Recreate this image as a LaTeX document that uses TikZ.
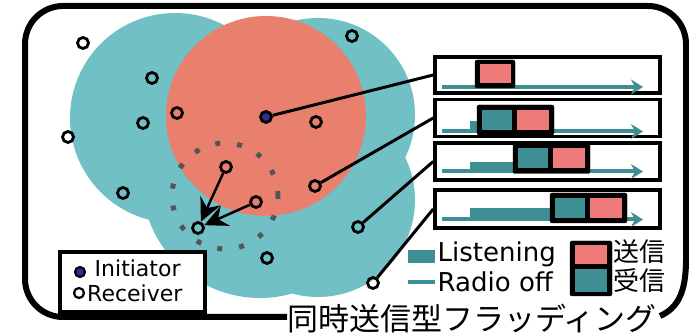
\documentclass[tikz,border=0pt]{standalone}
\usepackage{fontspec}
\setmainfont{DejaVu Sans}
\newfontfamily\cjk{Noto Sans CJK JP}
\usetikzlibrary{arrows.meta}
\definecolor{blobc}{HTML}{71C0C5}
\definecolor{redc}{HTML}{E9806D}
\definecolor{tealc}{HTML}{3D8F94}
\definecolor{pinkc}{HTML}{EF7A7A}
\definecolor{dotc}{HTML}{555555}
\definecolor{initc}{HTML}{2E2E9A}
\newcommand\pairat[1]{%
  \begin{scope}[shift={#1}]
    \filldraw[black,rounded corners=2pt] (0,0) rectangle (77,30);
    \fill[tealc] (5,5) rectangle (35,25);
    \fill[pinkc] (40,5) rectangle (72,25);
  \end{scope}}
\begin{document}
\begin{tikzpicture}[x=1pt,y=-1pt,
  rcv/.style={circle,draw=black,line width=2.8pt,minimum size=11pt,inner sep=0pt},
  initnode/.style={rcv,fill=initc},
  conn/.style={draw=black,line width=3pt},
  arr/.style={draw=black,line width=2.5pt,-{Stealth[length=23pt,width=22pt,inset=8pt]}},
  tbox/.style={draw=black,line width=3.5pt,fill=white,minimum width=225pt,inner sep=0pt},
  baseline/.style={draw=tealc,line width=4pt,-{Stealth[length=12pt,width=15pt,inset=4pt]}},
  frame/.style={draw=black,line width=6pt},
  lbl/.style={anchor=base west,inner sep=0pt}]
\useasboundingbox (0,0) rectangle (689,336);
\fill[white] (0,0) rectangle (689,336);

% coverage blob (union of circles)
\fill[blobc] (175,118) circle (105pt) (318,115) circle (97pt)
             (318,200) circle (97pt) (260,180) circle (118pt);
% initiator range
\fill[redc] (266,116) circle (100pt);
% dotted range
\draw[dotc,line width=5pt,dash pattern=on 5pt off 17pt] (225,196) circle (53pt);

% nodes
\node[rcv] (r1) at (83,43) {};
\node[rcv] (r2) at (152,78) {};
\node[rcv] (r3) at (177,113) {};
\node[rcv] (r4) at (143,123) {};
\node[rcv] (r5) at (68,137) {};
\node[initnode] (ini) at (266,117) {};
\node[rcv] (r6) at (316,122) {};
\node[rcv] (r7) at (352,36) {};
\node[rcv] (r8) at (226,167) {};
\node[rcv] (r9) at (256,202) {};
\node[rcv] (r10) at (315,186) {};
\node[rcv] (r11) at (123,193) {};
\node[rcv] (r12) at (198,228) {};
\node[rcv] (r13) at (358,227) {};
\node[rcv] (r14) at (267,258) {};
\node[rcv] (r15) at (373,283) {};

\draw[arr] (r8) -- (r12);
\draw[arr] (r9) -- (r12);

% timeline boxes
\node[tbox,minimum height=36pt] (b1) at (547.5,75) {};
\node[tbox,minimum height=37pt] (b2) at (547.5,118) {};
\node[tbox,minimum height=37pt] (b3) at (547.5,161.5) {};
\node[tbox,minimum height=38pt] (b4) at (547.5,209) {};

\draw[conn] (ini) -- (b1.west);
\draw[conn] (r10) -- (b2.west);
\draw[conn] (r13) -- (b3.west);
\draw[conn] (r15) -- (b4.west);

% box 1
\draw[baseline] (442,87) -- (643,87);
\filldraw[black,rounded corners=2pt] (475,60) rectangle (515,88);
\fill[pinkc] (479.5,64) rectangle (510.5,83.5);
% box 2
\draw[baseline] (442,131.5) -- (643,131.5);
\fill[tealc] (470,121) rectangle (478,132);
\pairat{(477,105)}
% box 3
\draw[baseline] (442,171.5) -- (643,171.5);
\fill[tealc] (470,162) rectangle (515,172);
\pairat{(513,143.5)}
% box 4
\draw[baseline] (442,219.5) -- (643,219.5);
\fill[tealc] (470,208) rectangle (552,219);
\pairat{(550,193)}

% legend right
\fill[tealc] (408,250) rectangle (435,263);
\draw[tealc,line width=4.5pt] (408,282) -- (435,282);
\node[lbl] (tl) at (437.5,262) {\fontsize{26}{30}\selectfont Listening};
\node[lbl] (tr) at (437.5,291.5) {\fontsize{26}{30}\selectfont Radio off};
\filldraw[black,rounded corners=2pt] (570,241) rectangle (612,296);
\fill[pinkc] (575,245) rectangle (607,264);
\fill[tealc] (575,269.5) rectangle (607,292);
\node[lbl] (ts) at (613,262) {\cjk\fontsize{26}{26}\selectfont 送信};
\node[lbl] (tj) at (613,291) {\cjk\fontsize{26}{26}\selectfont 受信};

% legend left
\node[draw=black,line width=4.5pt,fill=white,minimum width=145pt,minimum height=60pt,inner sep=0pt] (lg) at (132.5,282) {};
\node[initnode,minimum size=10pt,line width=2.2pt] (li) at (80,272) {};
\node[rcv,minimum size=10pt,line width=2.2pt] (lr) at (79,293) {};
\node[lbl] at (94.5,277) {\fontsize{22}{24}\selectfont Initiator};
\node[lbl] at (87,301.5) {\fontsize{22}{24}\selectfont Receiver};

% frame and title
\node[anchor=base,inner sep=0pt] (title) at (472,331) {\cjk\fontsize{31}{31}\selectfont 同時送信型フラッディング};
\draw[frame,rounded corners=38pt] (287,317) -- (25,317) -- (25,6) -- (686,6) -- (686,262);
\draw[frame] (686,260) .. controls (686,292) and (678,308) .. (660,316);
\end{tikzpicture}
\end{document}
